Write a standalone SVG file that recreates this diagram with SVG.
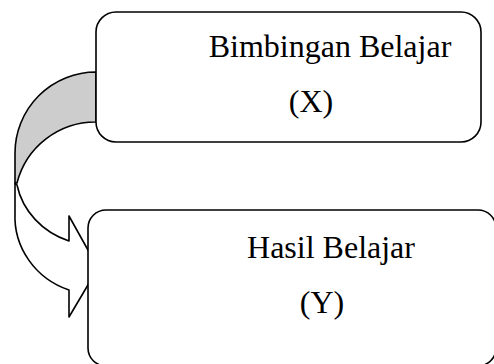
<svg xmlns="http://www.w3.org/2000/svg" width="494" height="364" viewBox="0 0 494 364">
<style>
.ln{stroke:#000;stroke-width:1.6;stroke-linejoin:round}
.box{fill:#fff;stroke:#000;stroke-width:1.6}
.t{font-family:"Liberation Serif","Times New Roman",serif;font-size:32px;fill:#000;text-anchor:middle}
</style>
<rect width="494" height="364" fill="#fff"/>
<g id="connectors">
<path class="ln" fill="#cdcdcd" d="M96,72 A81,81 0 0 0 15,153 L15,183 L17,183 A81,81 0 0 1 96,122 Z"/>
<path class="ln" fill="#fff" d="M15,183 L15,213 A81,78 0 0 0 69,290 L69,317 L98,268 L69,216 L69,241 A81,75 0 0 1 17,185 Z"/>
</g>
<g id="node-x">
<rect class="box" x="96" y="12" width="385" height="130" rx="20" ry="20"/>
<text class="t" x="330" y="57">Bimbingan Belajar</text>
<text class="t" x="311" y="112">(X)</text>
</g>
<g id="node-y">
<rect class="box" x="88" y="210" width="408" height="156" rx="18" ry="18"/>
<text class="t" x="331" y="258">Hasil Belajar</text>
<text class="t" x="322" y="313">(Y)</text>
</g>
</svg>
